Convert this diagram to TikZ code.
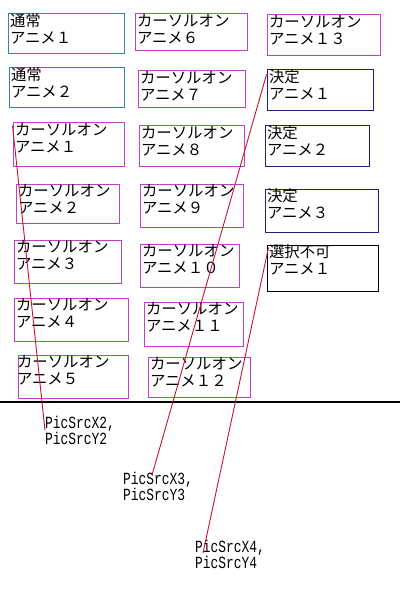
\documentclass[tikz,border=0pt]{standalone}
\usepackage{fontspec}
\usetikzlibrary{calc}
\newfontfamily\cjk{Noto Sans CJK JP}
\newfontfamily\lblfont[FakeStretch=0.76]{Liberation Mono}
\definecolor{tealc}{HTML}{3388AA}
\definecolor{magc}{HTML}{C040C8}
\definecolor{navyc}{HTML}{202080}
\definecolor{redc}{HTML}{CC1030}
\newcommand\bxt[3]{\parbox[c][#2bp][t]{#1bp}{\vspace*{0pt}\raggedright\leftskip=2bp\relax #3}}
\tikzset{
  box/.style={draw, line width=1bp, inner sep=0pt, anchor=north west, font=\cjk\fontsize{15.4bp}{17bp}\selectfont},
  lbl/.style={inner sep=0pt, anchor=north west, align=left, font=\lblfont\fontsize{17bp}{16bp}\selectfont},
  redline/.style={draw=redc, line width=0.9bp},
  rule/.style={draw=black, line width=2bp}
}
\begin{document}
\begin{tikzpicture}[x=1bp,y=-1bp]
\fill[white] (0,0) rectangle (400,600);
\useasboundingbox (0,0) rectangle (400,600);
% column 1
\node[box, draw=tealc] (n1) at (7.5,13.5) {\bxt{116}{40}{通常\\アニメ１}};
\node[box, draw=tealc] (n2) at (8.5,67.5) {\bxt{115}{40}{通常\\アニメ２}};
\node[box, draw=magc] (c1) at (12.5,122.5) {\bxt{111}{43}{カーソルオン\\アニメ１}};
\node[box, draw=magc] (c2) at (15.5,183.5) {\bxt{103}{39}{カーソルオン\\アニメ２}};
\node[box, draw=magc] (c3) at (13.5,239.5) {\bxt{107}{43}{カーソルオン\\アニメ３}};
\node[box, draw=magc] (c4) at (13.5,297.5) {\bxt{114}{43}{カーソルオン\\アニメ４}};
\node[box, draw=magc] (c5) at (17.5,354.5) {\bxt{110}{43}{\hspace*{-3bp}カーソルオン\\\hspace*{-3bp}アニメ５}};
% column 2
\node[box, draw=magc] (c6) at (134.5,13.5) {\bxt{112}{37}{カーソルオン\\アニメ６}};
\node[box, draw=magc] (c7) at (137.5,70.5) {\bxt{107}{37}{カーソルオン\\アニメ７}};
\node[box, draw=magc] (c8) at (138.5,125.5) {\bxt{105}{40}{カーソルオン\\アニメ８}};
\node[box, draw=magc] (c9) at (139.5,183.5) {\bxt{103}{43}{カーソルオン\\アニメ９}};
\node[box, draw=magc] (c10) at (139.5,243.5) {\bxt{99}{43}{カーソルオン\\アニメ１０}};
\node[box, draw=magc] (c11) at (143.5,301.5) {\bxt{99}{44}{カーソルオン\\アニメ１１}};
\node[box, draw=magc] (c12) at (147.5,356.5) {\bxt{102}{40}{カーソルオン\\アニメ１２}};
% column 3
\node[box, draw=magc] (c13) at (266.5,14.5) {\bxt{113}{41}{カーソルオン\\アニメ１３}};
\node[box, draw=navyc] (k1) at (266.5,69.5) {\bxt{106}{41}{決定\\アニメ１}};
\node[box, draw=navyc] (k2) at (264.5,125.5) {\bxt{104}{40}{決定\\アニメ２}};
\node[box, draw=navyc] (k3) at (264.5,188.5) {\bxt{113}{43}{決定\\アニメ３}};
\node[box, draw=black] (s1) at (266.5,244.5) {\bxt{111}{46}{選択不可\\アニメ１}};
% rule
\coordinate (h1) at (0,402);
\coordinate (h2) at (400,402);
\draw[rule] (h1) -- (h2);
% labels
\node[lbl] (l2) at (45,416) {PicSrcX2,\\PicSrcY2};
\node[lbl] (l3) at (123,472) {PicSrcX3,\\PicSrcY3};
\node[lbl] (l4) at (195,540) {PicSrcX4,\\PicSrcY4};
% red connectors
\draw[redline] ($(c1.north west)+(0,3)$) -- (l2.west);
\draw[redline] ($(k1.north west)+(0,5)$) -- ($(l3.north west)+(29,3)$);
\draw[redline] ($(s1.north west)+(2,3)$) -- ($(l4.north west)+(8,13)$);
\end{tikzpicture}
\end{document}
